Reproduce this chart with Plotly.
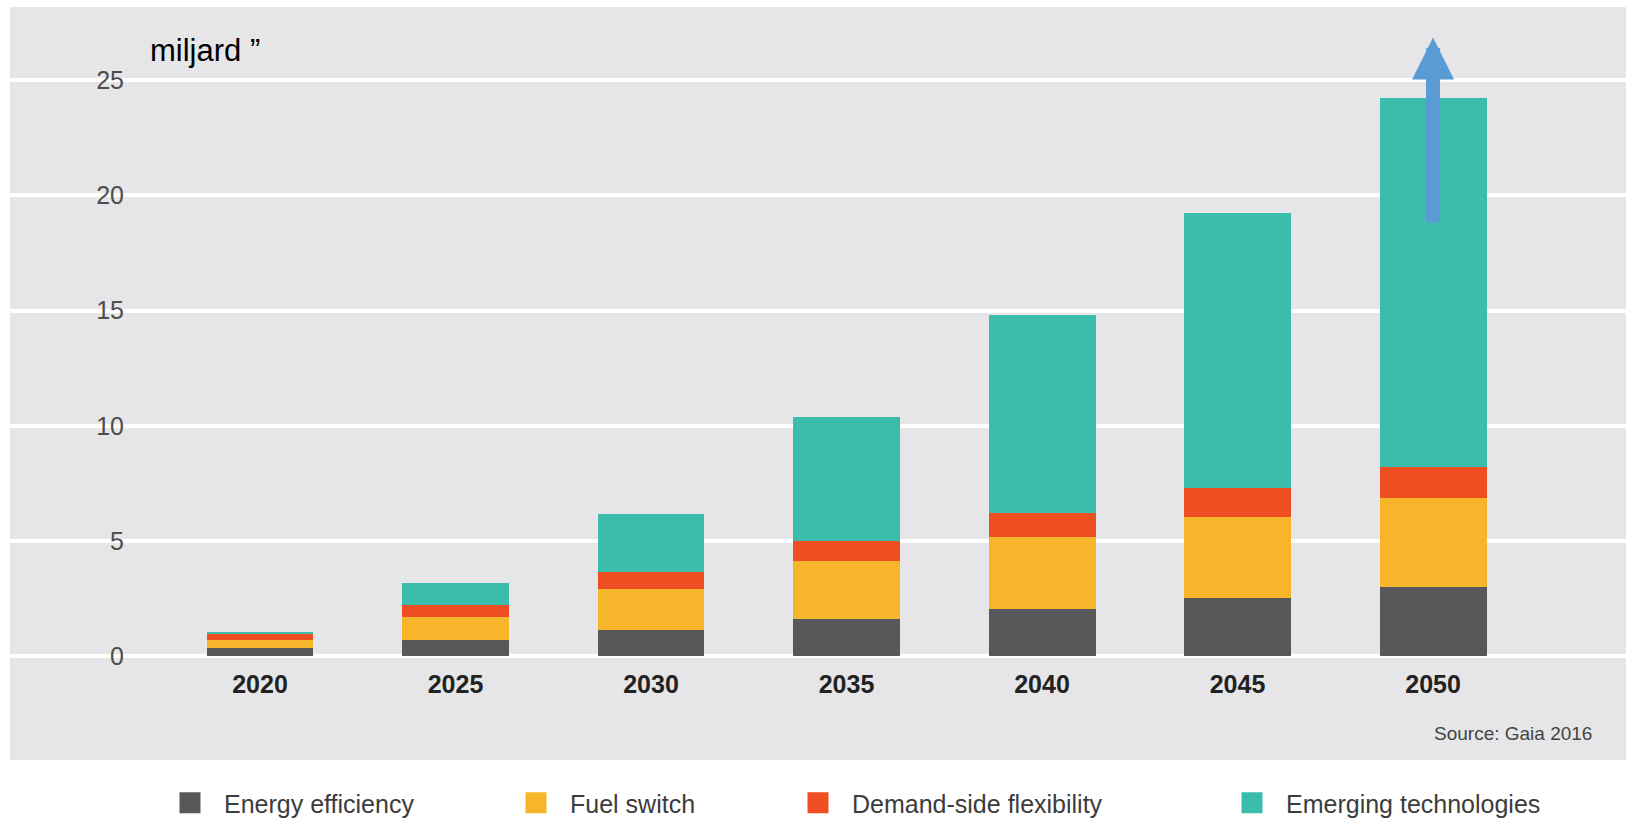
import plotly.graph_objects as go

# ---- data (values in billions) ----
years = ['2020', '2025', '2030', '2035', '2040', '2045', '2050']
energy_efficiency = [0.33, 0.69, 1.15, 1.60, 2.03, 2.53, 3.00]
fuel_switch = [0.36, 1.00, 1.77, 2.51, 3.15, 3.53, 3.88]
demand_side_flexibility = [0.31, 0.52, 0.74, 0.89, 1.05, 1.22, 1.33]
emerging_technologies = [0.05, 0.98, 2.50, 5.36, 8.57, 11.94, 16.04]

series_names = ['Energy efficiency', 'Fuel switch', 'Demand-side flexibility', 'Emerging technologies']
series_values = [energy_efficiency, fuel_switch, demand_side_flexibility, emerging_technologies]
colors = ['#58585a', '#f7b52b', '#ef4e23', '#3bbdac']
y_tickvals = [0, 5, 10, 15, 20, 25]
y_ticktext = ['0', '5', '10', '15', '20', '25']
arrow_year = '2050'
arrow_tail_value = 18.77
arrow_tip_value = 26.86

# ---- geometry helpers (pixel layout of the picture) ----
W, H = 1626, 826
PL, PR, PT, PB = 10, 1626, 7, 670  # plot area in pixels


def px_x(px):
    return (px - PL) / (PR - PL)


def px_y(py):
    return (PB - py) / (PB - PT)


FONT = 'Arial, Liberation Sans, Helvetica, sans-serif'
BG = '#e6e6e8'

fig = go.Figure()

for name, vals, col in zip(series_names, series_values, colors):
    fig.add_trace(go.Bar(
        x=years, y=vals, name=name,
        marker=dict(color=col, line=dict(width=0)),
        showlegend=False,
    ))

legend_ids = ['legend', 'legend2', 'legend3', 'legend4']
legend_text_start = [224, 570, 852, 1286]
ITEMW = 58
TEXTGAP = ITEMW + 10
for name, col, lid in zip(series_names, colors, legend_ids):
    fig.add_trace(go.Scatter(
        x=[None], y=[None], mode='markers', name=name,
        marker=dict(symbol='square', size=16, color=col, line=dict(color=col, width=5)),
        legend=lid, hoverinfo='skip', showlegend=True,
    ))

legend_layout = {}
for lid, ts in zip(legend_ids, legend_text_start):
    legend_layout[lid] = dict(
        orientation='h', x=px_x(ts - TEXTGAP), xanchor='left',
        y=px_y(812), yanchor='middle',
        font=dict(family=FONT, size=25, color='#3c3c3c'),
        itemwidth=ITEMW, bgcolor='rgba(0,0,0,0)', borderwidth=0,
        itemclick=False, itemdoubleclick=False,
    )

fig.update_layout(
    width=W, height=H,
    margin=dict(l=PL, r=W - PR, t=PT, b=H - PB, pad=0),
    paper_bgcolor='white', plot_bgcolor=BG,
    barmode='stack', bargap=0.453,
    font=dict(family=FONT),
    title=dict(text='miljard ”', font=dict(family=FONT, size=31, color='#000000'),
               xref='paper', x=px_x(150), xanchor='left',
               yref='container', y=1 - 50 / H, yanchor='middle'),
    xaxis=dict(type='category', categoryorder='array', categoryarray=years,
               range=[-1.2788, 6.987], showgrid=False, zeroline=False, showline=False,
               ticks='', tickfont=dict(family=FONT, size=25, color='#222222', weight='bold'),
               ticklabelstandoff=4, fixedrange=True),
    yaxis=dict(range=[-0.3, 28.18], tickvals=y_tickvals, ticktext=y_ticktext,
               showgrid=True, gridcolor='white', gridwidth=4, zeroline=False,
               showline=False, ticks='',
               tickfont=dict(family=FONT, size=25, color='#4d4d4d'),
               ticklabelstandoff=-115, fixedrange=True),
    shapes=[dict(type='rect', xref='paper', yref='paper', x0=0, x1=1,
                 y0=px_y(768), y1=1, fillcolor=BG, line=dict(width=0), layer='below')],
    annotations=[
        dict(text='Source: Gaia 2016', xref='paper', yref='paper',
             x=px_x(1594), xanchor='right', y=px_y(741), yanchor='middle',
             showarrow=False, font=dict(family=FONT, size=19, color='#444444')),
        dict(text='', xref='x', yref='y', axref='x', ayref='y',
             x=years.index(arrow_year), y=arrow_tip_value,
             ax=years.index(arrow_year), ay=arrow_tail_value,
             showarrow=True, arrowhead=2, arrowsize=0.6, arrowwidth=14,
             arrowcolor='#5b9bd5', standoff=0, startstandoff=0),
    ],
    **legend_layout,
)

fig.write_html(
    'out.html',
    config={'displayModeBar': False},
    post_script="document.body.style.margin='0';document.body.style.padding='0';",
)
